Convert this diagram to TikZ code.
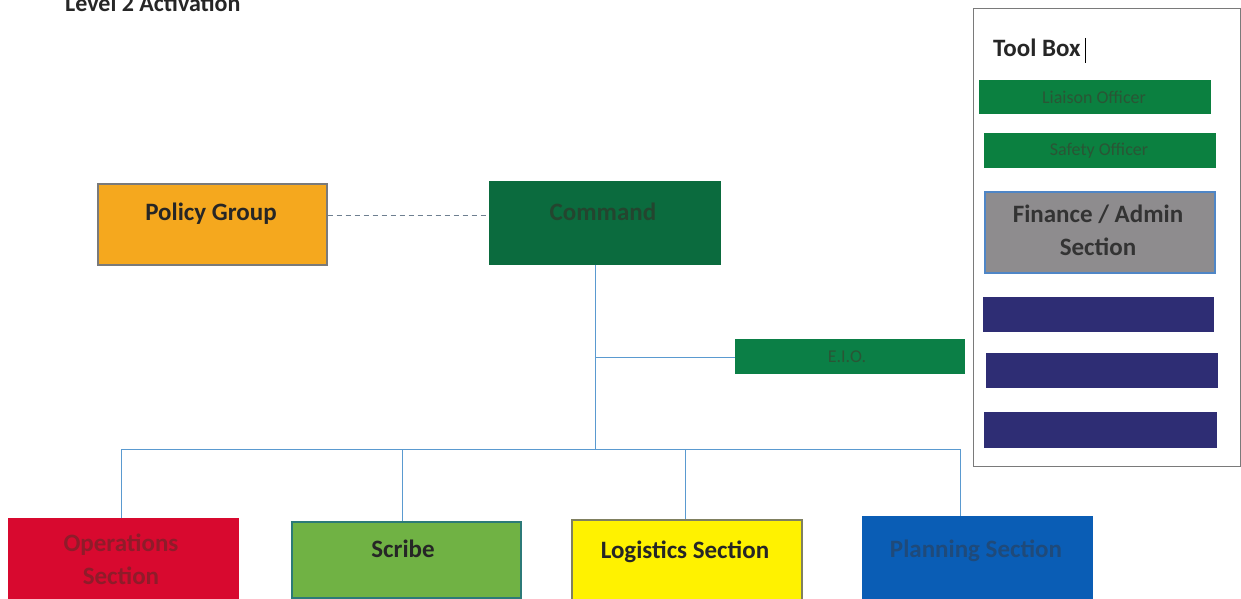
\documentclass[tikz,border=0pt]{standalone}
\usepackage{fontspec}
\setmainfont{Carlito}
\definecolor{orangeF}{HTML}{F5A81E}
\definecolor{cmdG}{HTML}{0B6B3E}
\definecolor{cmdT}{HTML}{24452F}
\definecolor{eioG}{HTML}{0B7F46}
\definecolor{eioT}{HTML}{2A5535}
\definecolor{tbG}{HTML}{0B8040}
\definecolor{finG}{HTML}{8E8C8E}
\definecolor{finB}{HTML}{4F86C6}
\definecolor{navyB}{HTML}{2E2D74}
\definecolor{redF}{HTML}{D8092F}
\definecolor{redT}{HTML}{8E1C2A}
\definecolor{scrG}{HTML}{70B244}
\definecolor{scrB}{HTML}{2C7A78}
\definecolor{yelF}{HTML}{FFF200}
\definecolor{yelB}{HTML}{808060}
\definecolor{bluF}{HTML}{0A5DB5}
\definecolor{bluT}{HTML}{1F4A7A}
\definecolor{lineB}{HTML}{5A9AD0}
\definecolor{dashC}{HTML}{6E7F90}
\definecolor{grayB}{HTML}{7A7A7A}
\begin{document}
\begin{tikzpicture}[x=1pt,y=-1pt,
  box/.style={draw, line width=1.5pt, anchor=north west, inner sep=0pt, rectangle},
  txt/.style={font=\bfseries, align=center, inner sep=0pt},
  big/.style={font=\bfseries\fontsize{25}{33}\selectfont},
  small/.style={font=\fontsize{18}{20}\selectfont},
  conn/.style={draw=lineB, line width=1pt}]
\useasboundingbox (0,0) rectangle (1241,599);
\clip (0,0) rectangle (1241,599);
\fill[white] (0,0) rectangle (1241,599);
% title
\node[txt, anchor=base west, font=\bfseries\fontsize{24}{26}\selectfont, text=black!85] (title) at (65,12) {Level 2 Activation};
% policy group
\node[box, draw=grayB, fill=orangeF, minimum width=229, minimum height=81] (policy) at (97,183) {};
\node[txt, big, text=black!85] (policyT) at (211,214) {Policy Group};
% command
\node[box, draw=cmdG, fill=cmdG, minimum width=230, minimum height=82] (command) at (489,181) {};
\node[txt, big, text=cmdT] (commandT) at (603,212) {Command};
\draw[dashC, dash pattern=on 5pt off 4pt, line width=1pt] (policy.east |- 0,215) -- (command.west |- 0,215);
% E.I.O.
\node[box, draw=eioG, fill=eioG, minimum width=228, minimum height=33] (eio) at (735,339) {};
\node[txt, small, text=eioT] (eioT) at (847,357) {E.I.O.};
% bottom boxes
\node[box, draw=redF, fill=redF, minimum width=229, minimum height=90] (ops) at (8,518) {};
\node[txt, big, text=redT] (opsT) at (121,559) {Operations\\Section};
\node[box, draw=scrB, fill=scrG, minimum width=229, minimum height=76] (scribe) at (291,521) {};
\node[txt, big, text=black!85] (scribeT) at (403,549) {Scribe};
\node[box, draw=yelB, fill=yelF, minimum width=230, minimum height=90] (log) at (571,519) {};
\node[txt, big, text=black!85] (logT) at (685,552) {Logistics Section};
\node[box, draw=bluF, fill=bluF, minimum width=229, minimum height=90] (plan) at (862,516) {};
\node[txt, big, text=bluT] (planT) at (976,551) {Planning Section};
% connectors
\coordinate (trunk) at (595,449);
\coordinate (eioJ) at (595,357);
\draw[conn] (command.south -| trunk) -- (trunk);
\draw[conn] (eioJ) -- (eio.west |- eioJ);
\draw[conn] (121,449) -- (960,449);
\draw[conn] (121,449) -- (ops.north -| 121,0);
\draw[conn] (402,449) -- (scribe.north -| 402,0);
\draw[conn] (685,449) -- (log.north -| 685,0);
\draw[conn] (960,449) -- (plan.north -| 960,0);
% tool box
\node[box, draw=grayB, line width=1.2pt, fill=white, minimum width=267, minimum height=458] (toolbox) at (973,8) {};
\node[txt, anchor=base west, font=\bfseries\fontsize{25}{27}\selectfont, text=black!85] (toolT) at (993,57) {Tool Box};
\draw[black, line width=1pt] (1085,38) -- (1085,63);
\node[box, draw=tbG, fill=tbG, minimum width=230, minimum height=33] (liaison) at (979,80) {};
\node[txt, small, text=eioT] (liaisonT) at (1094,97) {Liaison Officer};
\node[box, draw=tbG, fill=tbG, minimum width=230, minimum height=33] (safety) at (984,133) {};
\node[txt, small, text=eioT] (safetyT) at (1099,151) {Safety Officer};
\node[box, draw=finB, fill=finG, minimum width=230, minimum height=81] (fin) at (984,191) {};
\node[txt, big, text=black!80] (finT) at (1098,230) {Finance / Admin\\Section};
\node[box, draw=navyB, fill=navyB, minimum width=229, minimum height=33] (nav1) at (983,297) {};
\node[box, draw=navyB, fill=navyB, minimum width=230, minimum height=33] (nav2) at (986,353) {};
\node[box, draw=navyB, fill=navyB, minimum width=231, minimum height=34] (nav3) at (984,412) {};
\end{tikzpicture}
\end{document}
